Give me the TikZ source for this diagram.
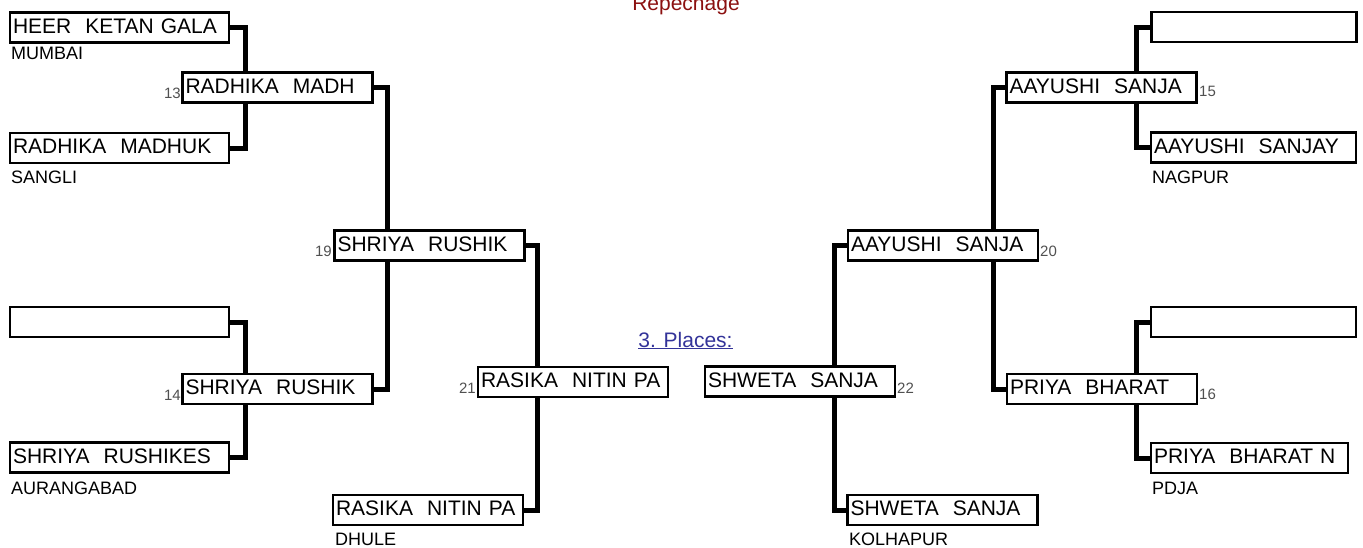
\documentclass[tikz,border=0pt]{standalone}
\usepackage{fontspec}
\setmainfont{Liberation Sans}
\definecolor{numgray}{RGB}{80,80,80}
\definecolor{repred}{RGB}{139,16,16}
\definecolor{plblue}{RGB}{51,51,153}
\pgfdeclarelayer{bg}
\pgfsetlayers{bg,main}
\begin{document}
\begin{tikzpicture}[x=1pt,y=-1pt,
  box/.style={draw, line width=2.8pt, fill=white, inner xsep=3pt, inner ysep=0pt,
    minimum height=30pt, align=left, text height=15pt, text depth=4pt,
    font=\fontsize{21pt}{21pt}\selectfont},
  leafL/.style={box, text width=213pt},
  mid/.style={box, text width=184pt},
  leafR/.style={box, text width=199pt},
  conn/.style={line width=5pt},
  num/.style={text=numgray, font=\fontsize{15pt}{15pt}\selectfont, inner sep=0pt},
  city/.style={font=\fontsize{18pt}{18pt}\selectfont, inner sep=0pt, anchor=base west},
  title/.style={font=\fontsize{21pt}{21pt}\selectfont, inner sep=0pt, anchor=base}]
\useasboundingbox (0,0) rectangle (1363,547);

% junction x positions
\coordinate (j13) at (245,0);
\coordinate (j19) at (387,0);
\coordinate (j21) at (537,0);
\coordinate (j22) at (834,0);
\coordinate (j20) at (993,0);
\coordinate (j15) at (1136,0);

% ---- boxes ----
\node[leafL] (a1) at (119.5,27.5) {HEER\ \ KETAN GALA};
\node[leafL] (a2) at (119.5,148) {RADHIKA\ \ MADHUK};
\node[leafL] (b1) at (119.5,322) {};
\node[leafL] (b2) at (119.5,457.5) {SHRIYA\ \ RUSHIKES};
\node[mid] (r13) at (277.5,87.5) {RADHIKA\ \ MADH};
\node[mid] (r14) at (277.5,389) {SHRIYA\ \ RUSHIK};
\node[mid] (r19) at (429.5,245.5) {SHRIYA\ \ RUSHIK};
\node[mid] (r21) at (573,382) {RASIKA\ \ NITIN PA};
\node[mid] (c1) at (428,510) {RASIKA\ \ NITIN PA};
\node[mid] (r22) at (800,381.5) {SHWETA\ \ SANJA};
\node[mid] (f1) at (942.5,510) {SHWETA\ \ SANJA};
\node[mid] (r20) at (943,245.5) {AAYUSHI\ \ SANJA};
\node[mid] (r15) at (1101.5,87.5) {AAYUSHI\ \ SANJA};
\node[mid] (r16) at (1102,389) {PRIYA\ \ BHARAT};
\node[leafR] (e1) at (1254,27) {};
\node[leafR] (e2) at (1253.5,147.5) {AAYUSHI\ \ SANJAY};
\node[leafR] (d1) at (1253.5,322) {};
\node[box, text width=191pt] (d2) at (1249.5,458) {PRIYA\ \ BHARAT N};

% ---- connectors (behind the boxes) ----
\begin{pgfonlayer}{bg}
\draw[conn] (a1.east) -| (j13 |- r13.north);
\draw[conn] (a2.east) -| (j13 |- r13.south);
\draw[conn] (b1.east) -| (j13 |- r14.north);
\draw[conn] (b2.east) -| (j13 |- r14.south);
\draw[conn] (r13.east) -| (j19 |- r19.north);
\draw[conn] (r14.east) -| (j19 |- r19.south);
\draw[conn] (r19.east) -| (j21 |- r21.north);
\draw[conn] (c1.east) -| (j21 |- r21.south);
\draw[conn] (r20.west) -| (j22 |- r22.north);
\draw[conn] (f1.west) -| (j22 |- r22.south);
\draw[conn] (r15.west) -| (j20 |- r20.north);
\draw[conn] (r16.west) -| (j20 |- r20.south);
\draw[conn] (e1.west) -| (j15 |- r15.north);
\draw[conn] (e2.west) -| (j15 |- r15.south);
\draw[conn] (d1.west) -| (j15 |- r16.north);
\draw[conn] (d2.west) -| (j15 |- r16.south);
\end{pgfonlayer}

% ---- match numbers ----
\node[num, anchor=base east] (n13) at (181,98) {13};
\node[num, anchor=base east] (n14) at (181,400) {14};
\node[num, anchor=base east] (n19) at (332,256) {19};
\node[num, anchor=base east] (n21) at (476,393) {21};
\node[num, anchor=base west] (n20) at (1040,256) {20};
\node[num, anchor=base west] (n22) at (897,393) {22};
\node[num, anchor=base west] (n15) at (1199,96) {15};
\node[num, anchor=base west] (n16) at (1199,399) {16};

% ---- cities ----
\node[city] (t1) at (11,59) {MUMBAI};
\node[city] (t2) at (11,183) {SANGLI};
\node[city] (t3) at (11,494) {AURANGABAD};
\node[city] (t4) at (335,545) {DHULE};
\node[city] (t5) at (849,545) {KOLHAPUR};
\node[city] (t6) at (1152,183) {NAGPUR};
\node[city] (t7) at (1152,494) {PDJA};

% ---- titles ----
\node[title, text=repred] (rep) at (686,10) {Repechage};
\node[title, text=plblue] (pl) at (685.5,347) {\underline{3. Places:}};
\end{tikzpicture}
\end{document}
